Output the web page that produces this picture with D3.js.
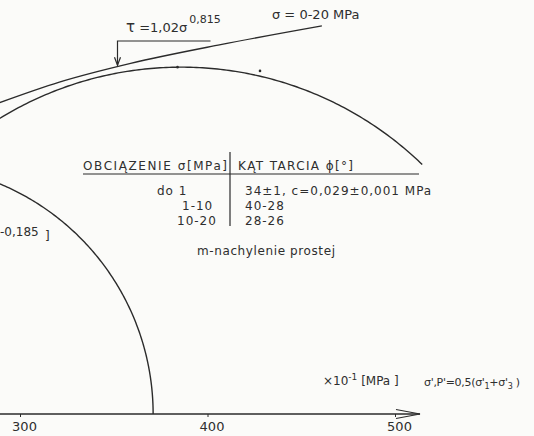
<!DOCTYPE html>
<html>
<head>
<meta charset="utf-8">
<script src="https://cdn.jsdelivr.net/npm/d3@7"></script>
<style>
  html, body { margin: 0; padding: 0; background: #fbfbf9; }
  svg { display: block; }
  text { font-family: "DejaVu Sans", sans-serif; fill: #2e2e2e; }
</style>
</head>
<body>
<svg width="534" height="436"></svg>
<script>
// values in units of x10^-1 MPa
var xTicks = [300, 400, 500];

// Mohr circles (sigma centre, radius, start angle of the drawn arc in degrees)
var circleCentres = [238, 386];
var circleRadii = [133, 185];
var circleStartDeg = [0, 46];

// failure envelope  tau = 1,02 sigma^0,815
var envSigma = [289, 321, 359, 407, 461];
var envTau = [166, 177, 187, 197, 207];

// marked points on the big circle
var dotSigma = [384, 428];
var dotTau = [185, 183];

// table
var loadRanges = ["do 1", "1-10", "10-20"];
var frictionAngles = ["34\u00b11, c=0,029\u00b10,001 MPa", "40-28", "28-26"];

var svg = d3.select("svg");
var ink = "#2b2b2b";

var xScale = d3.scaleLinear()
               .domain([300, 500])
               .range([20, 395]);
var yScale = d3.scaleLinear()
               .domain([0, 200])
               .range([414, 39]);

// circles
var circleLine = d3.line()
    .x(function(d) { return xScale(d[0]); })
    .y(function(d) { return yScale(d[1]); })
    .curve(d3.curveLinear);

circleCentres.forEach(function(c, i) {
    var r = circleRadii[i];
    var pts = d3.range(circleStartDeg[i], 180.5, 0.5).map(function(a) {
        var t = a * Math.PI / 180;
        return [c + r * Math.cos(t), r * Math.sin(t)];
    });
    svg.append("path")
       .attr("d", circleLine(pts))
       .attr("fill", "none")
       .attr("stroke", ink)
       .attr("stroke-width", 1.4);
});

// envelope
var envLine = d3.line()
    .x(function(d, i) { return xScale(envSigma[i]); })
    .y(function(d) { return yScale(d); })
    .curve(d3.curveMonotoneX);
svg.append("path")
   .attr("d", envLine(envTau))
   .attr("fill", "none")
   .attr("stroke", ink)
   .attr("stroke-width", 1.4);

svg.selectAll("circle.dot")
   .data(dotSigma)
   .enter().append("circle")
   .attr("class", "dot")
   .attr("cx", function(d) { return xScale(d); })
   .attr("cy", function(d, i) { return yScale(dotTau[i]); })
   .attr("r", 1.3)
   .attr("fill", ink);

// x axis
var xAxis = d3.axisBottom(xScale)
              .tickValues(xTicks)
              .tickSize(3)
              .tickPadding(5);
var gx = svg.append("g")
   .attr("transform", "translate(0," + yScale(0) + ")")
   .call(xAxis);
gx.select(".domain").remove();
gx.selectAll(".tick line").attr("stroke", ink);
gx.selectAll(".tick text")
  .attr("dx", 4)
  .style("font-size", "13px")
  .style("font-family", "DejaVu Sans, sans-serif")
  .attr("fill", "#333");

var axisEnd = xScale.invert(420);
svg.append("line")
   .attr("x1", 0).attr("x2", xScale(axisEnd))
   .attr("y1", yScale(0)).attr("y2", yScale(0))
   .attr("stroke", ink).attr("stroke-width", 1.3);
svg.append("path")
   .attr("d", "M" + (xScale(axisEnd) - 24) + "," + (yScale(0) - 4.5) +
              "L" + xScale(axisEnd) + "," + yScale(0) +
              "L" + (xScale(axisEnd) - 24) + "," + (yScale(0) + 4.5))
   .attr("fill", "none").attr("stroke", ink).attr("stroke-width", 1.2);

// axis labels
var lab = svg.append("text").attr("x", 323).attr("y", 385).style("font-size", "12px");
lab.append("tspan").text("\u00d710");
lab.append("tspan").attr("dy", -5).style("font-size", "9px").text("-1");
lab.append("tspan").attr("dy", 5).text(" [MPa ]");

var lab2 = svg.append("text").attr("x", 424).attr("y", 386)
   .style("font-size", "11px").style("letter-spacing", "-0.3px");
lab2.append("tspan").text("\u03c3',P'=0,5(\u03c3'");
lab2.append("tspan").attr("dy", 3).style("font-size", "8px").text("1");
lab2.append("tspan").attr("dy", -3).text("+\u03c3'");
lab2.append("tspan").attr("dy", 3).style("font-size", "8px").text("3");
lab2.append("tspan").attr("dy", -3).text(" )");

// envelope annotation
svg.append("text").attr("x", 272).attr("y", 19)
   .style("font-size", "13px").text("\u03c3 = 0-20 MPa");

var tauLab = svg.append("text").attr("x", 126).attr("y", 32).style("font-size", "13px");
tauLab.append("tspan").style("font-size", "15px").text("\u03c4");
tauLab.append("tspan").text(" =1,02\u03c3");
tauLab.append("tspan").attr("dy", -9).attr("dx", 2).style("font-size", "11px").text("0,815");

var tipSigma = 352, tipTau = 186;
var leaderY = 41;
svg.append("path")
   .attr("d", "M" + (xScale(tipSigma) + 93) + "," + leaderY +
              "L" + xScale(tipSigma) + "," + leaderY +
              "L" + xScale(tipSigma) + "," + yScale(tipTau))
   .attr("fill", "none").attr("stroke", ink).attr("stroke-width", 1.2);
svg.append("path")
   .attr("d", "M" + (xScale(tipSigma) - 3) + "," + (yScale(tipTau) - 8) +
              "L" + xScale(tipSigma) + "," + yScale(tipTau) +
              "L" + (xScale(tipSigma) + 3) + "," + (yScale(tipTau) - 8))
   .attr("fill", "none").attr("stroke", ink).attr("stroke-width", 1.2);

// table
svg.append("text").attr("x", 83).attr("y", 170)
   .style("font-size", "12px").attr("textLength", 144)
   .text("OBCI\u0104ZENIE \u03c3[MPa]");
svg.append("text").attr("x", 238).attr("y", 170)
   .style("font-size", "12px").attr("textLength", 115)
   .text("K\u0104T TARCIA \u03d5[\u00b0]");
svg.append("line")
   .attr("x1", 83).attr("x2", 419).attr("y1", 174).attr("y2", 174)
   .attr("stroke", ink).attr("stroke-width", 1.2);
svg.append("line")
   .attr("x1", 230).attr("x2", 230).attr("y1", 152).attr("y2", 226)
   .attr("stroke", ink).attr("stroke-width", 1.2);

var rowX = [157, 182, 177];
svg.selectAll("text.load")
   .data(loadRanges)
   .enter().append("text")
   .attr("class", "load")
   .attr("x", function(d, i) { return rowX[i]; })
   .attr("y", function(d, i) { return 195 + i * 15; })
   .style("font-size", "12px")
   .style("letter-spacing", "1px")
   .text(function(d) { return d; });
svg.selectAll("text.phi")
   .data(frictionAngles)
   .enter().append("text")
   .attr("class", "phi")
   .attr("x", 245)
   .attr("y", function(d, i) { return 195 + i * 15; })
   .style("font-size", "12px")
   .style("letter-spacing", "1px")
   .text(function(d) { return d; });

svg.append("text").attr("x", 197).attr("y", 255)
   .style("font-size", "12px").attr("textLength", 138)
   .text("m-nachylenie prostej");

svg.append("text").attr("x", 0).attr("y", 236)
   .style("font-size", "12px").text("-0,185");
svg.append("text").attr("x", 45).attr("y", 240)
   .style("font-size", "12px").text("]");
</script>
</body>
</html>
